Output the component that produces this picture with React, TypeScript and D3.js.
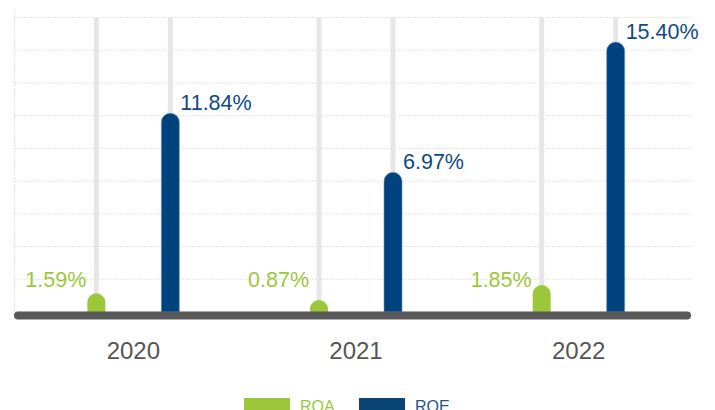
import React from "react";
import * as d3 from "d3";

const years = ["2020", "2021", "2022"];
const series = ["ROA", "ROE"];
// bar heights (in gridline units, 2 per gridline)
const roaValues = [1.14, 0.73, 1.65];
const roeValues = [12.15, 8.54, 16.5];
const roaLabels = ["1.59%", "0.87%", "1.85%"];
const roeLabels = ["11.84%", "6.97%", "15.40%"];
const yTicks = [0, 2, 4, 6, 8, 10, 12, 14, 16, 18];

const W = 715;
const H = 410;
const GREEN = "#9bc83a";
const BLUE = "#00427e";

export default function App() {
  const x = d3.scaleBand<string>().domain(years).range([22, 690]);
  const sub = d3.scalePoint<string>().domain(series).range([-37, 37]);
  const y = d3.scaleLinear().domain([0, 18]).range([312, 17.5]);
  const y0 = y(0);
  const bw = 18;
  const r = bw / 2;

  const barPath = (cx: number, top: number) => {
    const l = cx - r;
    const rr = cx + r;
    const t = Math.min(top, y0 - r);
    return `M${l},${y0}L${l},${t + r}A${r},${r} 0 0 1 ${rr},${t + r}L${rr},${y0}Z`;
  };

  const cxOf = (yr: string, s: string) => (x(yr) as number) + x.bandwidth() / 2 + (sub(s) as number);

  return (
    <svg width={W} height={H} style={{ position: "absolute", left: 0, top: 0, fontFamily: "'Liberation Sans', Arial, sans-serif" }}>
      {/* gridlines */}
      {yTicks.map((t) => (
        <line key={t} x1={15} x2={692} y1={y(t)} y2={y(t)} stroke="#dcdcdc" strokeWidth={1} strokeDasharray="1.5,1.5" />
      ))}
      <line x1={14.5} x2={14.5} y1={10} y2={y0} stroke="#dcdcdc" strokeWidth={1} strokeDasharray="1.5,1.5" />
      {/* tracks */}
      {years.map((yr) =>
        series.map((s) => (
          <rect key={yr + s} x={cxOf(yr, s) - 2.5} y={y(18)} width={5} height={y0 - y(18)} fill="#e6e6e6" />
        ))
      )}
      {/* bars */}
      {years.map((yr, i) => (
        <g key={yr}>
          <path d={barPath(cxOf(yr, "ROA"), y(roaValues[i]))} fill={GREEN} />
          <path d={barPath(cxOf(yr, "ROE"), y(roeValues[i]))} fill={BLUE} stroke="#6d92c4" strokeWidth={0.6} />
        </g>
      ))}
      {/* axis */}
      <line x1={18} x2={687} y1={315.5} y2={315.5} stroke="#595959" strokeWidth={8} strokeLinecap="round" />
      {/* labels */}
      {years.map((yr, i) => (
        <g key={"l" + yr}>
          <text x={cxOf(yr, "ROA") - r - 1} y={y0 - 25} textAnchor="end" fontSize={21.5} fill={GREEN}>
            {roaLabels[i]}
          </text>
          <text x={cxOf(yr, "ROE") + r + 1} y={y(roeValues[i]) - 3} textAnchor="start" fontSize={21.5} fill="#0d4a86">
            {roeLabels[i]}
          </text>
          <text x={(x(yr) as number) + x.bandwidth() / 2} y={359} textAnchor="middle" fontSize={24} fill="#555555">
            {yr}
          </text>
        </g>
      ))}
      {/* legend */}
      <rect x={244} y={398} width={46} height={14} fill={GREEN} />
      <text x={300} y={411.5} fontSize={16} fill={GREEN}>ROA</text>
      <rect x={359} y={398} width={46} height={14} fill="#0b4573" />
      <text x={415} y={411.5} fontSize={16} fill="#1f5590">ROE</text>
    </svg>
  );
}
